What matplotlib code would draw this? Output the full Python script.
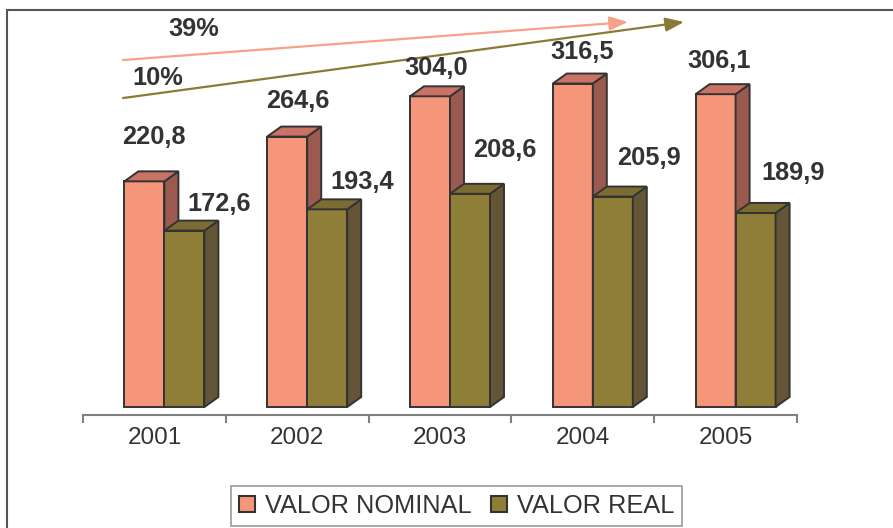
import matplotlib.pyplot as plt
from matplotlib.patches import Polygon, Patch, Rectangle

years = ["2001", "2002", "2003", "2004", "2005"]
valor_nominal = [220.8, 264.6, 304.0, 316.5, 306.1]
valor_real = [172.6, 193.4, 208.6, 205.9, 189.9]

# label offsets in pixels (dx, up) from the top centre of each front face
nominal_label_off = [(9, 44), (11, 36), (6, 28), (9, 32), (4, 33)]
real_label_off = [(35, 27), (35, 27), (35, 44), (36, 39), (38, 40)]

plt.rcParams["font.family"] = ["Liberation Sans", "DejaVu Sans"]
TXT = "#333333"
EDGE = "#333333"

nom_cols = ("#F5967A", "#9B5A50", "#C87364")   # front, side, top
real_cols = ("#8F7E38", "#645537", "#7D6C32")

W, H = 893, 528
fig = plt.figure(figsize=(W / 100, H / 100), dpi=100)

# pixel geometry of the plot area
s = 1.022            # px per unit
x0_px, x1_px = 83, 797
base_px = 407        # y pixel of value 0
axis_px = 415
top_val = 380
ax_bottom = (H - axis_px) / H
ax_h = (axis_px - (base_px - top_val * s)) / H
ax = fig.add_axes([x0_px / W, ax_bottom, (x1_px - x0_px) / W, ax_h])
ax.set_xlim(-0.5, 4.5)
ax.set_ylim(-(axis_px - base_px) / s, top_val)

bw = 40 / 142.8
dx = 14 / 142.8
dy = 10 / s
nom_left = -30 / 142.8
real_left = nom_left + bw


def bar3d(x, h, cols):
    front, side, top = cols
    ax.add_patch(Rectangle((x, 0), bw, h, facecolor=front, edgecolor=EDGE, lw=1.4, zorder=3))
    ax.add_patch(Polygon([(x + bw, 0), (x + bw + dx, dy), (x + bw + dx, h + dy), (x + bw, h)],
                         closed=True, facecolor=side, edgecolor=EDGE, lw=1.4, zorder=3))
    ax.add_patch(Polygon([(x, h), (x + dx, h + dy), (x + bw + dx, h + dy), (x + bw, h)],
                         closed=True, facecolor=top, edgecolor=EDGE, lw=1.4, zorder=3))


for i in range(len(years)):
    bar3d(i + nom_left, valor_nominal[i], nom_cols)
    bar3d(i + real_left, valor_real[i], real_cols)
    for vals, left, offs in ((valor_nominal, nom_left, nominal_label_off),
                             (valor_real, real_left, real_label_off)):
        ax.annotate(f"{vals[i]:.1f}".replace(".", ","),
                    (i + left + bw / 2, vals[i]), xytext=offs[i],
                    textcoords="offset pixels", ha="center", va="center",
                    fontsize=18.3, fontweight="bold", color=TXT, zorder=5)

# growth arrows
g_nom = (valor_nominal[-1] / valor_nominal[0] - 1) * 100
g_real = (valor_real[-1] / valor_real[0] - 1) * 100
arrow_style = "-|>,head_length=0.8,head_width=0.3"
ax.annotate("", xy=(3.317, 376.7), xytext=(-0.22, 339.5),
            arrowprops=dict(arrowstyle=arrow_style, mutation_scale=14, lw=1.6,
                            color="#F7A08A", shrinkA=0, shrinkB=0))
ax.annotate("", xy=(3.709, 376.7), xytext=(-0.22, 302.3),
            arrowprops=dict(arrowstyle=arrow_style, mutation_scale=14, lw=1.6,
                            color="#8B7A35", shrinkA=0, shrinkB=0))
ax.text(0.274, 370, f"{g_nom:.0f}%", ha="center", va="center",
        fontsize=18.3, fontweight="bold", color=TXT)
ax.text(0.02, 322, f"{g_real:.0f}%", ha="center", va="center",
        fontsize=18.3, fontweight="bold", color=TXT)

# axis
for sp in ("top", "left", "right"):
    ax.spines[sp].set_visible(False)
ax.spines["bottom"].set_color("#808080")
ax.spines["bottom"].set_linewidth(1.5)
ax.set_yticks([])
ax.set_xticks([i - 0.5 for i in range(len(years) + 1)])
ax.set_xticklabels([])
ax.tick_params(axis="x", which="major", length=6, width=1.5, color="#808080", direction="out")
ax.set_xticks(range(len(years)), minor=True)
ax.set_xticklabels(years, minor=True, fontsize=17.5, color=TXT)
ax.tick_params(axis="x", which="minor", length=0, pad=9)

handles = [Patch(facecolor=nom_cols[0], edgecolor=EDGE, lw=1.5, label="VALOR NOMINAL"),
           Patch(facecolor=real_cols[0], edgecolor=EDGE, lw=1.5, label="VALOR REAL")]
leg = fig.legend(handles=handles, loc="center", bbox_to_anchor=(456.5 / W, 22 / H),
                 ncol=2, fontsize=18.3, frameon=True, fancybox=False,
                 handlelength=0.64, handleheight=0.64, handletextpad=0.4,
                 columnspacing=0.75, borderpad=0.3, borderaxespad=0)
leg.get_frame().set_edgecolor("#808080")
leg.get_frame().set_linewidth(1.2)
for t in leg.get_texts():
    t.set_color(TXT)

# outer border (top and left edges visible)
fig.add_artist(Rectangle((7 / W, -0.1), 1.2, 1 - 10 / H + 0.1, transform=fig.transFigure,
                         fill=False, edgecolor="#555555", lw=1.5))

fig.savefig("out.png", dpi=100)
